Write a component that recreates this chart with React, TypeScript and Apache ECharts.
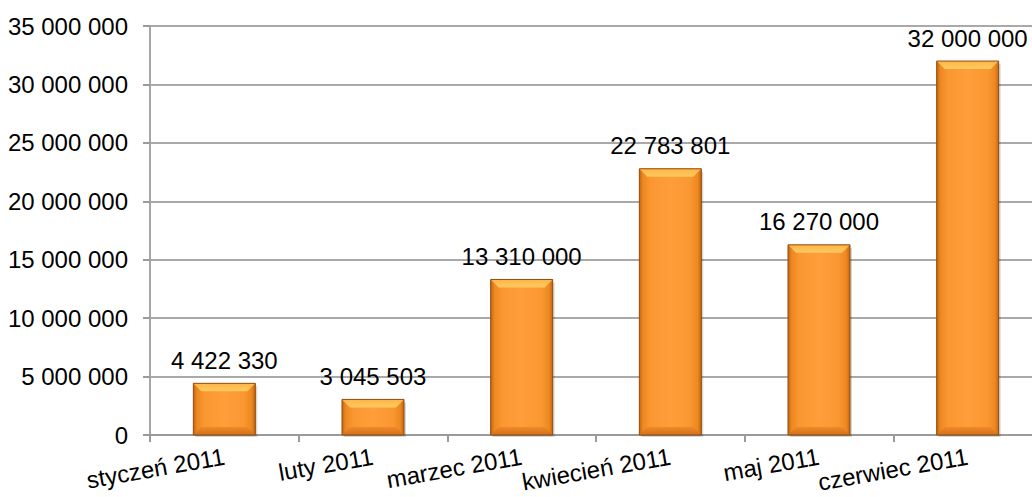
import React, { useEffect, useRef } from "react";
import * as echarts from "echarts";

const categories = ["styczeń 2011", "luty 2011", "marzec 2011", "kwiecień 2011", "maj 2011", "czerwiec 2011"];
const values = [4422330, 3045503, 13310000, 22783801, 16270000, 32000000];
const yMin = 0;
const yMax = 35000000;
const yInterval = 5000000;

const fmt = (v: number) => String(v).replace(/\B(?=(\d{3})+(?!\d))/g, " ");
const FONT = "Liberation Sans, Arial, sans-serif";

export default function App() {
  const ref = useRef<HTMLDivElement>(null);
  useEffect(() => {
    if (!ref.current) return;
    const chart = echarts.init(ref.current, null, { renderer: "svg" });
    const bodyFill = new echarts.graphic.LinearGradient(0, 0, 1, 0, [
      { offset: 0, color: "#C4660F" },
      { offset: 0.06, color: "#EE8820" },
      { offset: 0.18, color: "#FA9731" },
      { offset: 0.5, color: "#FF9E3A" },
      { offset: 0.82, color: "#FA9731" },
      { offset: 0.94, color: "#EE8820" },
      { offset: 1, color: "#C4660F" },
    ]);
    const topFill = new echarts.graphic.LinearGradient(0, 0, 0, 1, [
      { offset: 0, color: "#FFB445" },
      { offset: 1, color: "#FFCB62" },
    ]);
    const bottomFill = new echarts.graphic.LinearGradient(0, 0, 0, 1, [
      { offset: 0, color: "#EE8A26" },
      { offset: 1, color: "#D0701C" },
    ]);
    chart.setOption({
      animation: false,
      grid: { left: 150, right: 0, top: 26, bottom: 62, containLabel: false, outerBoundsMode: "none" },
      xAxis: {
        type: "category",
        data: categories,
        boundaryGap: true,
        axisLine: { show: true, lineStyle: { color: "#9a9a9a", width: 2 } },
        axisTick: { show: true, length: 7, alignWithLabel: false, lineStyle: { color: "#9a9a9a", width: 2 } },
        axisLabel: {
          rotate: 10,
          margin: 21,
          interval: 0,
          fontSize: 24,
          fontFamily: FONT,
          color: "#000",
        },
      },
      yAxis: {
        type: "value",
        min: yMin,
        max: yMax,
        interval: yInterval,
        axisLine: { show: true, lineStyle: { color: "#a6a6a6", width: 2 } },
        axisTick: { show: true, length: 7, lineStyle: { color: "#9a9a9a", width: 2 } },
        splitLine: { show: true, lineStyle: { color: "#8c8c8c", width: 1.5 } },
        axisLabel: {
          formatter: (v: number) => fmt(v),
          margin: 22,
          fontSize: 24,
          fontFamily: FONT,
          color: "#000",
        },
      },
      series: [
        {
          type: "custom",
          data: values.map((v, i) => [i, v]),
          clip: false,
          renderItem: (params: any, api: any) => {
            const idx = api.value(0);
            const v = api.value(1);
            const top = api.coord([idx, v]);
            const base = api.coord([idx, 0]);
            const w = 62;
            const left = top[0] - w / 2;
            const h = base[1] - top[1];
            const b = 8;
            return {
              type: "group",
              children: [
                {
                  type: "rect",
                  shape: { x: left + 2, y: top[1] + 3, width: w, height: h - 1 },
                  style: { fill: "rgba(0,0,0,0.15)" },
                },
                {
                  type: "rect",
                  shape: { x: left, y: top[1], width: w, height: h },
                  style: { fill: bodyFill },
                },
                {
                  type: "polygon",
                  shape: { points: [[left, top[1]], [left + w, top[1]], [left + w - b, top[1] + b], [left + b, top[1] + b]] },
                  style: { fill: topFill },
                },
                {
                  type: "polygon",
                  shape: { points: [[left, base[1]], [left + w, base[1]], [left + w - b, base[1] - b], [left + b, base[1] - b]] },
                  style: { fill: bottomFill },
                },
                {
                  type: "rect",
                  shape: { x: left, y: top[1], width: w, height: h },
                  style: { fill: "none", stroke: "#8E4E10", lineWidth: 1 },
                },
                {
                  type: "text",
                  x: top[0],
                  y: top[1] - 11,
                  style: {
                    text: fmt(v),
                    textAlign: "center",
                    textVerticalAlign: "bottom",
                    fontSize: 24,
                    fontFamily: FONT,
                    fill: "#000",
                  },
                },
              ],
            };
          },
        },
      ],
    });
    return () => chart.dispose();
  }, []);
  return (
    <div style={{ position: "fixed", left: 0, top: 0, width: 1032, height: 497, overflow: "hidden", background: "#fff" }}>
      <div ref={ref} style={{ width: 1042, height: 497 }} />
    </div>
  );
}
